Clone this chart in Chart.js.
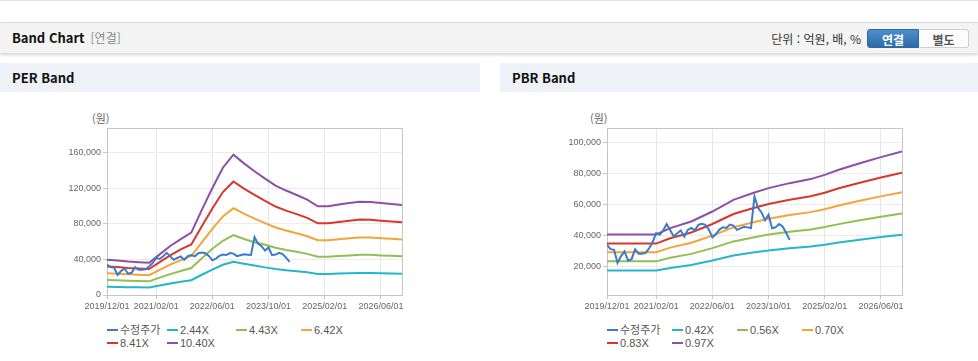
<!DOCTYPE html>
<html lang="ko">
<head>
<meta charset="utf-8">
<title>Band Chart</title>
<script src="https://cdn.jsdelivr.net/npm/chart.js@4.4.1/dist/chart.umd.min.js"></script>
<style>
    html, body { margin: 0; padding: 0; background: #fff; }
    body { width: 978px; height: 361px; position: relative; overflow: hidden;
           font-family: "Noto Sans CJK KR", "Noto Sans", sans-serif; }
    .topline { position: absolute; left: 0; top: 0; width: 978px; height: 1px; background: #e3e3e3; }
    .head { position: absolute; left: 0; top: 22px; width: 978px; height: 30px; background: #f4f4f4;
            border-top: 1px solid #dadada; box-shadow: 0 2px 3px rgba(0,0,0,0.16); }
    .head .title { position: absolute; left: 12px; top: 0; line-height: 30px; font-size: 13px; font-weight: bold; color: #111; }
    .head .title span { color: #8a8a8a; font-weight: normal; font-size: 12px; margin-left: 6px; }
    .head .unit { position: absolute; right: 117px; top: 0; line-height: 31px; font-size: 12px; color: #333; }
    .btn { position: absolute; top: 6px; height: 19px; line-height: 19px; text-align: center; font-size: 12px;
           font-weight: bold; box-sizing: border-box; }
    .btn.on { left: 867px; width: 52px; color: #fff; border-radius: 3px 0 0 3px;
              background: linear-gradient(#4f8ecd, #2e6aa8); border: 1px solid #2f67a0; }
    .btn.off { left: 919px; width: 50px; color: #555; background: #fdfdfd; border: 1px solid #cfcfcf;
               border-left: none; border-radius: 0 3px 3px 0; }
    .sec { position: absolute; top: 63px; height: 29px; line-height: 30px; background: #eef2f7;
           font-size: 13px; font-weight: bold; color: #111; padding-left: 12px; box-sizing: border-box; }
    .ylab { position: absolute; top: 110px; font-size: 11px; color: #666; }
    canvas { position: absolute; top: 95px; }
    .legend { position: absolute; top: 324px; display: grid; font-family: "Liberation Sans", "Noto Sans CJK KR", sans-serif;
              font-size: 11px; line-height: 12.5px; color: #555; }
    .legend i { display: inline-block; width: 11px; height: 2px; vertical-align: middle; margin: 0 2px 2px 0; }
</style>
</head>
<body>
<div class="topline"></div>
<div class="head">
    <div class="title">Band Chart<span>[연결]</span></div>
    <div class="unit">단위 : 억원, 배, %</div>
    <div class="btn on">연결</div>
    <div class="btn off">별도</div>
</div>

<div class="sec" style="left:0; width:480px;">PER Band</div>
<div class="sec" style="left:500px; width:478px;">PBR Band</div>

<div class="ylab" style="left:92px;">(원)</div>
<div class="ylab" style="left:590px;">(원)</div>

<canvas id="perChart" width="480" height="220" style="left:0;"></canvas>
<canvas id="pbrChart" width="478" height="220" style="left:500px;"></canvas>

<div class="legend" id="perLegend" style="left:107px; grid-template-columns: 60px 69px 65px 65px;"></div>
<div class="legend" id="pbrLegend" style="left:607px; grid-template-columns: 65px 65px 65px 65px;"></div>

<script>
    // x축 = 2019/12 부터의 개월 수
    var xTickMonths = [0, 14, 30, 46, 62, 78];
    var xTickLabels = ['2019/12/01', '2021/02/01', '2022/06/01', '2023/10/01', '2025/02/01', '2026/06/01'];

    // 수정주가 (월별, 2019/12 ~ 2024/04)
    var price = [34200, 31400, 31000, 22500, 27000, 30000, 24000, 25000, 31400, 28500,
                 28500, 29000, 32000, 36000, 41700, 40600, 43500, 47500, 43500, 39600,
                 41700, 43400, 39500, 43800, 45000, 43500, 47000, 47700, 47000, 44000,
                 39000, 41000, 44000, 45500, 45000, 47200, 46600, 43800, 44800, 45800,
                 45400, 45000, 65200, 58000, 55000, 50000, 53500, 44900, 45500, 47500,
                 46000, 42000, 37400];

    // PER 밴드 (분기별)
    var perBandMonths = [0, 3, 6, 9, 12, 15, 18, 21, 24, 27, 30, 33, 36, 39, 42, 45, 48, 51, 54, 57,
                         60, 63, 66, 69, 72, 75, 78, 81, 84];
    var per244 = [9300, 9100, 8800, 8700, 8500, 10700, 13000, 14900, 16700, 22800, 28600, 34000, 37500, 35200, 33100,
                  31100, 29200, 27900, 26700, 25500, 23700, 23700, 24200, 24600, 24900, 24900, 24600, 24300, 24000];
    var per443 = [16900, 16600, 16100, 15800, 15400, 19500, 23500, 27100, 30300, 41300, 52000, 61000, 67400, 63100, 59400,
                  56500, 53100, 50700, 48600, 46300, 43000, 43000, 43900, 44600, 45300, 45200, 44600, 44100, 43700];
    var per642 = [24400, 24000, 23300, 22800, 22300, 28200, 34100, 39300, 44000, 59200, 74400, 88400, 97600, 91500, 86000,
                  80900, 76000, 72600, 69500, 66200, 61600, 61600, 62800, 63900, 64800, 64600, 63900, 63200, 62500];
    var per841 = [32000, 31500, 30500, 29900, 29300, 37000, 44600, 51400, 56900, 77500, 97400, 115900, 127800, 119800, 112600,
                  105900, 99600, 95000, 91100, 86800, 80700, 80700, 82300, 83700, 85000, 84700, 83700, 82800, 81900];
    var per1040 = [39600, 38900, 37700, 37000, 36200, 45700, 55200, 62800, 70300, 95800, 120500, 143300, 158000, 148200, 139300,
                   131000, 123100, 117600, 112600, 107300, 99800, 99800, 101800, 103500, 105000, 104700, 103500, 102400, 101300];
    var perYTicks = [0, 40000, 80000, 120000, 160000];

    // PBR 밴드
    var pbrBandMonths = [0, 14, 18, 24, 30, 36, 42, 46, 52, 58, 62, 66, 72, 78, 84];
    var pbr042 = [17700, 17700, 19400, 21300, 24100, 27300, 29400, 30600, 32000, 33100, 34200, 35700, 37500, 39200, 40700];
    var pbr056 = [23600, 23600, 25900, 28400, 32100, 36400, 39100, 40800, 42600, 44100, 45600, 47500, 50000, 52200, 54300];
    var pbr070 = [29500, 29500, 32400, 35500, 40100, 45500, 48900, 51000, 53300, 55200, 57100, 59400, 62500, 65300, 67900];
    var pbr083 = [35000, 35000, 38400, 42100, 47600, 54000, 58000, 60400, 63200, 65400, 67600, 70500, 74100, 77400, 80500];
    var pbr097 = [40900, 40900, 44900, 49200, 55600, 63100, 67800, 70600, 73800, 76400, 79100, 82400, 86600, 90500, 94100];
    var pbrYTicks = [20000, 40000, 60000, 80000, 100000];

    var colors = ['#3b7bc8', '#25b6c9', '#93bf52', '#f5a437', '#d8372c', '#8f4fa6'];

    function toXY(months, values) {
        return values.map(function (v, i) { return { x: months[i], y: v }; });
    }
    var priceMonths = price.map(function (v, i) { return i; });

    // 그래프 영역 테두리
    var plotBox = {
        id: 'plotBox',
        beforeDatasetsDraw: function (chart) {
            var a = chart.chartArea, c = chart.ctx;
            c.save();
            c.strokeStyle = '#c6c6c6';
            c.lineWidth = 1;
            c.strokeRect(Math.round(a.left) + 0.5, Math.round(a.top) + 0.5,
                         Math.round(a.right - a.left), Math.round(a.bottom - a.top));
            c.restore();
        }
    };

    var tickFont = { family: '"Liberation Sans", Arial, sans-serif', size: 9 };

    function bandChart(canvasId, sets, yMin, yMax, yTicks, rightPad) {
        var ctx = document.getElementById(canvasId).getContext('2d');
        return new Chart(ctx, {
            type: 'line',
            data: {
                datasets: sets.map(function (s, i) {
                    return { label: s.label, data: s.data, borderColor: colors[i], backgroundColor: colors[i],
                             borderWidth: 2, pointRadius: 0, tension: 0, fill: false };
                })
            },
            options: {
                responsive: false,
                animation: false,
                layout: { padding: { left: 57, right: rightPad, top: 33, bottom: 0 } },
                plugins: { legend: { display: false }, tooltip: { enabled: false } },
                scales: {
                    x: {
                        type: 'linear', min: 0, max: 84,
                        afterBuildTicks: function (s) {
                            s.ticks = xTickMonths.map(function (v) { return { value: v }; });
                        },
                        afterFit: function (s) { s.height = 20; s.paddingLeft = 0; s.paddingRight = 0; },
                        ticks: {
                            autoSkip: false, maxRotation: 0, padding: 2, color: '#666', font: tickFont,
                            callback: function (v) { return xTickLabels[xTickMonths.indexOf(v)]; }
                        },
                        grid: { color: '#e6e6e6', tickColor: '#c6c6c6', tickLength: 4 },
                        border: { color: '#c6c6c6' }
                    },
                    y: {
                        min: yMin, max: yMax,
                        afterBuildTicks: function (s) {
                            s.ticks = yTicks.map(function (v) { return { value: v }; });
                        },
                        afterFit: function (s) { s.width = 50; s.paddingTop = 0; s.paddingBottom = 0; },
                        ticks: {
                            padding: 2, color: '#666', font: tickFont,
                            callback: function (v) { return v.toLocaleString('en-US'); }
                        },
                        grid: { color: '#ececec', tickColor: '#c6c6c6', tickLength: 4 },
                        border: { color: '#c6c6c6' }
                    }
                }
            },
            plugins: [plotBox]
        });
    }

    function buildLegend(elId, sets) {
        var el = document.getElementById(elId);
        sets.forEach(function (s, i) {
            var item = document.createElement('div');
            item.innerHTML = '<i style="background:' + colors[i] + '"></i>' + s.label;
            el.appendChild(item);
        });
    }

    var perSets = [
        { label: '수정주가', data: toXY(priceMonths, price) },
        { label: '2.44X', data: toXY(perBandMonths, per244) },
        { label: '4.43X', data: toXY(perBandMonths, per443) },
        { label: '6.42X', data: toXY(perBandMonths, per642) },
        { label: '8.41X', data: toXY(perBandMonths, per841) },
        { label: '10.40X', data: toXY(perBandMonths, per1040) }
    ];
    var pbrSets = [
        { label: '수정주가', data: toXY(priceMonths, price) },
        { label: '0.42X', data: toXY(pbrBandMonths, pbr042) },
        { label: '0.56X', data: toXY(pbrBandMonths, pbr056) },
        { label: '0.70X', data: toXY(pbrBandMonths, pbr070) },
        { label: '0.83X', data: toXY(pbrBandMonths, pbr083) },
        { label: '0.97X', data: toXY(pbrBandMonths, pbr097) }
    ];

    bandChart('perChart', perSets, 0, 188000, perYTicks, 78);
    bandChart('pbrChart', pbrSets, 2000, 109200, pbrYTicks, 76);
    buildLegend('perLegend', perSets);
    buildLegend('pbrLegend', pbrSets);
</script>
</body>
</html>
